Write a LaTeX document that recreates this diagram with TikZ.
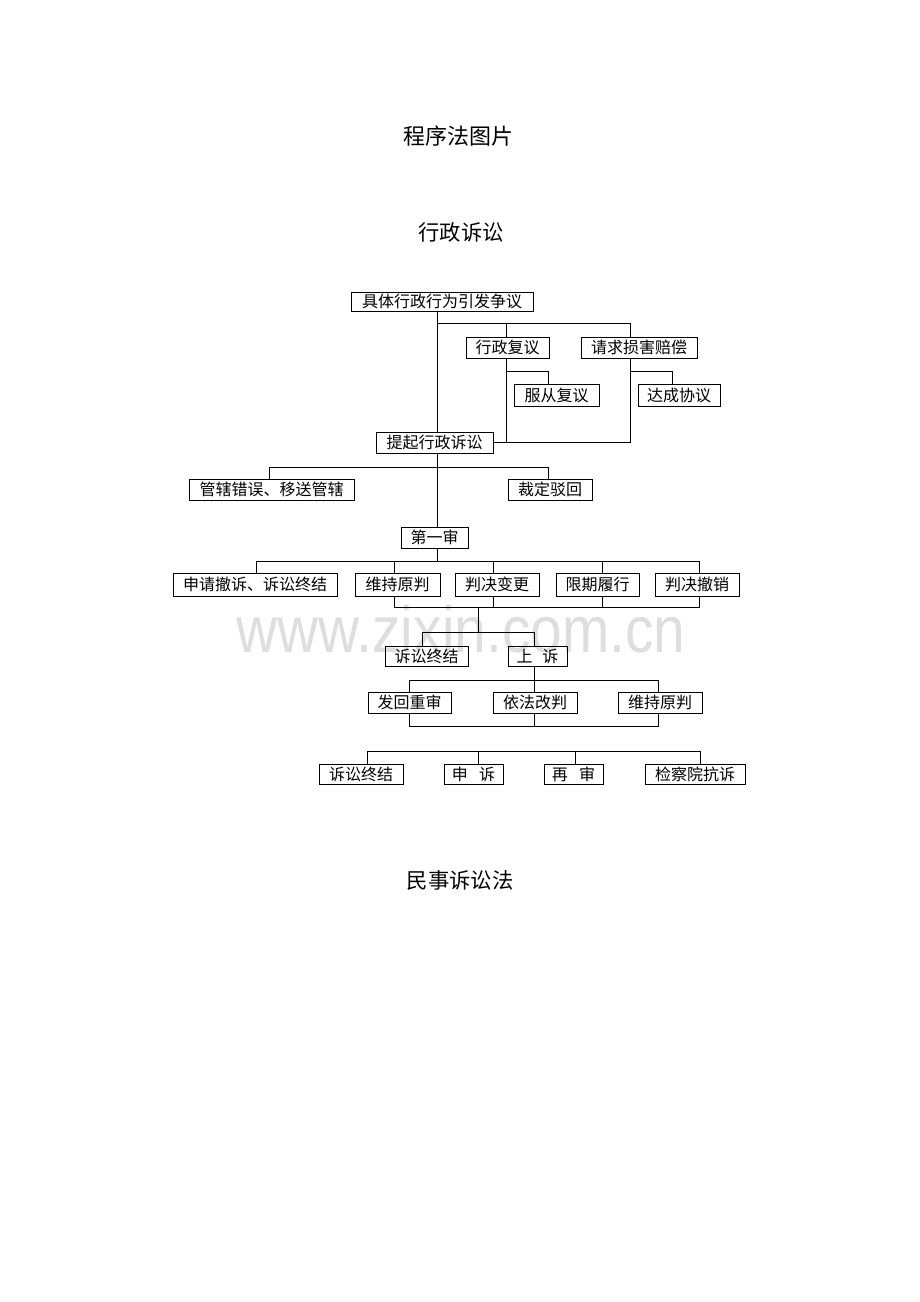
\documentclass[tikz,border=0pt]{standalone}
\usepackage{fontspec}
\newfontfamily\cjk{Noto Sans CJK SC}
\newfontfamily\wmfont{Liberation Sans}
\begin{document}
\begin{tikzpicture}[x=0.75pt,y=-0.75pt,
  box/.style={draw=black,line width=0.75pt,inner sep=0pt,font=\cjk\fontsize{12pt}{14pt}\selectfont},
  ln/.style={draw=black,line width=0.75pt},
  ttl/.style={inner sep=0pt,font=\cjk\fontsize{16pt}{18pt}\selectfont}]
\useasboundingbox (0,0) rectangle (920,1302);
% watermark
\node[anchor=base,inner sep=0pt,text=black!13,xscale=0.87,font=\wmfont\fontsize{49pt}{55pt}\selectfont] (wm) at (461,652) {www.zixin.com.cn};
% titles
\node[ttl,font=\cjk\fontsize{16.5pt}{18pt}\selectfont] (t1) at (458,136.5) {程序法图片};
\node[ttl] (t2) at (461,232) {行政诉讼};
\node[ttl] (t3) at (460,880) {民事诉讼法};
% boxes
\node[box,minimum width=182*0.75pt,minimum height=19*0.75pt] (A) at (442,301.5) {具体行政行为引发争议};
\node[box,minimum width=83*0.75pt,minimum height=21*0.75pt] (B) at (507.5,347.5) {行政复议};
\node[box,minimum width=116*0.75pt,minimum height=21*0.75pt] (C) at (639,347.5) {请求损害赔偿};
\node[box,minimum width=85*0.75pt,minimum height=22*0.75pt] (D) at (556.5,395) {服从复议};
\node[box,minimum width=82*0.75pt,minimum height=22*0.75pt] (E) at (679,395) {达成协议};
\node[box,minimum width=117*0.75pt,minimum height=21*0.75pt] (F) at (434.5,442.5) {提起行政诉讼};
\node[box,minimum width=165*0.75pt,minimum height=21*0.75pt] (G) at (271.5,489.5) {管辖错误、移送管辖};
\node[box,minimum width=84*0.75pt,minimum height=21*0.75pt] (H) at (550,489.5) {裁定驳回};
\node[box,minimum width=67*0.75pt,minimum height=21*0.75pt] (I) at (434.5,537.5) {第一审};
\node[box,minimum width=164*0.75pt,minimum height=23*0.75pt] (J1) at (255,584.5) {申请撤诉、诉讼终结};
\node[box,minimum width=85*0.75pt,minimum height=23*0.75pt] (J2) at (397.5,584.5) {维持原判};
\node[box,minimum width=84*0.75pt,minimum height=23*0.75pt] (J3) at (497,584.5) {判决变更};
\node[box,minimum width=83*0.75pt,minimum height=23*0.75pt] (J4) at (597.5,584.5) {限期履行};
\node[box,minimum width=84*0.75pt,minimum height=23*0.75pt] (J5) at (697,584.5) {判决撤销};
\node[box,minimum width=83*0.75pt,minimum height=20*0.75pt] (K1) at (426.5,656) {诉讼终结};
\node[box,minimum width=59*0.75pt,minimum height=20*0.75pt] (K2) at (537.5,656) {上\hspace{0.6em}诉};
\node[box,minimum width=83*0.75pt,minimum height=21*0.75pt] (L1) at (409.5,702.5) {发回重审};
\node[box,minimum width=84*0.75pt,minimum height=21*0.75pt] (L2) at (535,702.5) {依法改判};
\node[box,minimum width=84*0.75pt,minimum height=21*0.75pt] (L3) at (660,702.5) {维持原判};
\node[box,minimum width=84*0.75pt,minimum height=20*0.75pt] (M1) at (361,774) {诉讼终结};
\node[box,minimum width=59*0.75pt,minimum height=20*0.75pt] (M2) at (473.5,774) {申\hspace{0.7em}诉};
\node[box,minimum width=59*0.75pt,minimum height=20*0.75pt] (M3) at (573.5,774) {再\hspace{0.7em}审};
\node[box,minimum width=100*0.75pt,minimum height=20*0.75pt] (M4) at (695,774) {检察院抗诉};
% junction coordinates
\coordinate (t) at (437,0);
\coordinate (j1) at (437,323); \coordinate (j2) at (506,323); \coordinate (j3) at (630,323);
\coordinate (k1) at (506,371); \coordinate (k2) at (548,371);
\coordinate (k3) at (630,371); \coordinate (k4) at (672,371);
\coordinate (g1) at (269,467); \coordinate (g2) at (548,467);
\coordinate (p1) at (256,561); \coordinate (p2) at (394,561); \coordinate (p3) at (493,561);
\coordinate (p4) at (602,561); \coordinate (p5) at (699,561);
\coordinate (q2) at (394,607); \coordinate (q3) at (493,607); \coordinate (q4) at (602,607);
\coordinate (q5) at (699,607); \coordinate (q0) at (478,607); \coordinate (r0) at (478,632);
\coordinate (r1) at (422,632); \coordinate (r2) at (534,632);
\coordinate (s0) at (534,680); \coordinate (s1) at (409,680); \coordinate (s3) at (658,680);
\coordinate (u1) at (409,726); \coordinate (u2) at (534,726); \coordinate (u3) at (658,726);
\coordinate (v1) at (367,751); \coordinate (v2) at (478,751); \coordinate (v3) at (575,751);
\coordinate (v4) at (700,751);
% connectors
\draw[ln] (t |- A.south) -- (t |- F.north);
\draw[ln] (j1) -- (j3) -- (j3 |- C.north);
\draw[ln] (j2) -- (j2 |- B.north);
\draw[ln] (j2 |- B.south) -- (j2 |- F.east);
\draw[ln] (F.east) -- (j3 |- F.east) -- (j3 |- C.south);
\draw[ln] (k1) -- (k2) -- (k2 |- D.north);
\draw[ln] (k3) -- (k4) -- (k4 |- E.north);
\draw[ln] (t |- F.south) -- (t |- I.north);
\draw[ln] (g1 |- G.north) -- (g1) -- (g2) -- (g2 |- H.north);
\draw[ln] (t |- I.south) -- (t |- p1);
\draw[ln] (p1 |- J1.north) -- (p1) -- (p5) -- (p5 |- J5.north);
\draw[ln] (p2) -- (p2 |- J2.north);
\draw[ln] (p3) -- (p3 |- J3.north);
\draw[ln] (p4) -- (p4 |- J4.north);
\draw[ln] (q2 |- J2.south) -- (q2) -- (q5) -- (q5 |- J5.south);
\draw[ln] (q3 |- J3.south) -- (q3);
\draw[ln] (q4 |- J4.south) -- (q4);
\draw[ln] (q0) -- (r0);
\draw[ln] (r1 |- K1.north) -- (r1) -- (r2) -- (r2 |- K2.north);
\draw[ln] (s0 |- K2.south) -- (s0);
\draw[ln] (s1 |- L1.north) -- (s1) -- (s3) -- (s3 |- L3.north);
\draw[ln] (s0) -- (s0 |- L2.north);
\draw[ln] (u1 |- L1.south) -- (u1) -- (u3) -- (u3 |- L3.south);
\draw[ln] (u2 |- L2.south) -- (u2);
\draw[ln] (v1 |- M1.north) -- (v1) -- (v4) -- (v4 |- M4.north);
\draw[ln] (v2) -- (v2 |- M2.north);
\draw[ln] (v3) -- (v3 |- M3.north);
\end{tikzpicture}
\end{document}
